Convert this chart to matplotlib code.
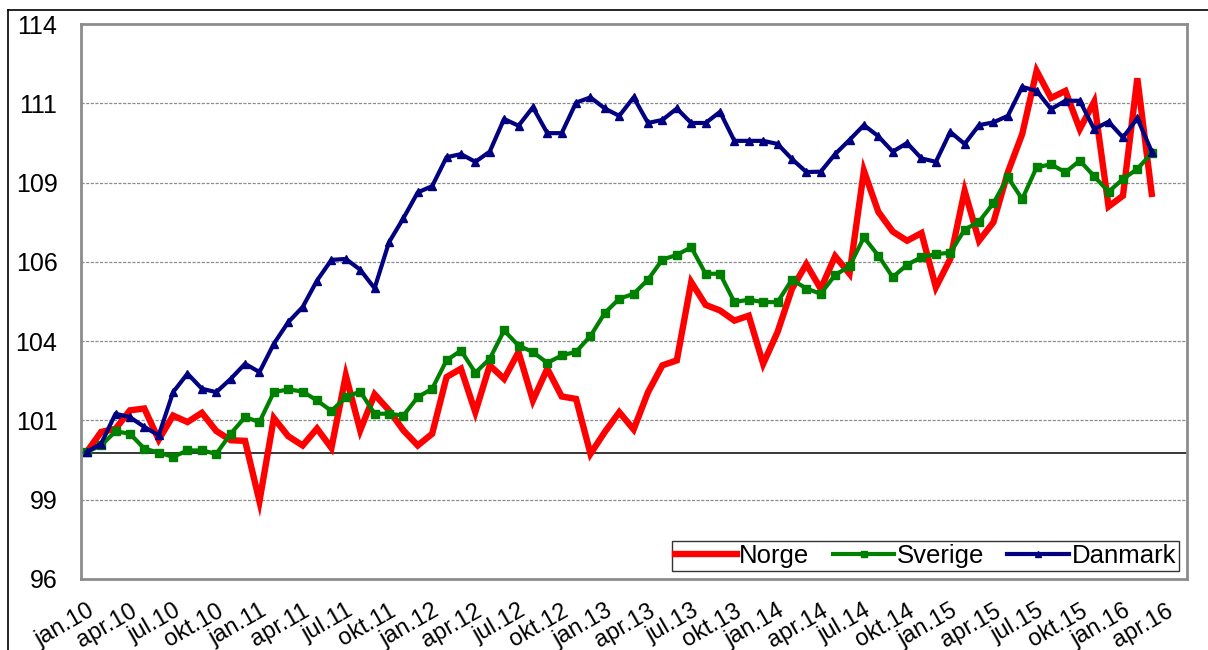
import numpy as np
import matplotlib
matplotlib.use("Agg")
import matplotlib.pyplot as plt
from matplotlib.lines import Line2D
import matplotlib.transforms as mtransforms

plt.rcParams['font.family'] = ['Liberation Sans', 'DejaVu Sans']

# ---------------- data ----------------
months = ["jan", "apr", "jul", "okt"]
years = ["10", "11", "12", "13", "14", "15", "16"]
tick_labels = [f"{m}.{y}" for y in years for m in months][:26]   # jan.10 ... apr.16
y_tick_labels = ["96", "99", "101", "104", "106", "109", "111", "114"]

norge = [100.12, 100.77, 100.87, 101.47, 101.53, 100.52, 101.30, 101.09, 101.39, 100.80,
         100.50, 100.48, 98.52, 101.22, 100.63, 100.33, 100.88, 100.25, 102.60, 100.82,
         101.99, 101.47, 100.82, 100.33, 100.71, 102.55, 102.82, 101.41, 102.93, 102.49,
         103.36, 101.79, 102.82, 101.92, 101.84, 100.06, 100.77, 101.41, 100.85, 102.06,
         102.93, 103.09, 105.63, 104.89, 104.71, 104.38, 104.54, 102.98, 104.01, 105.41,
         106.21, 105.41, 106.47, 105.90, 109.24, 107.91, 107.27, 106.97, 107.22, 105.46,
         106.38, 108.59, 106.97, 107.57, 109.19, 110.43, 112.48, 111.60, 111.83, 110.59,
         111.48, 108.08, 108.43, 112.24, 108.49]

sverige = [100.12, 100.33, 100.79, 100.71, 100.23, 100.10, 99.96, 100.17, 100.17, 100.06,
           100.71, 101.25, 101.09, 102.06, 102.15, 102.08, 101.79, 101.45, 101.90, 102.08,
           101.36, 101.36, 101.30, 101.90, 102.17, 103.09, 103.41, 102.69, 103.14, 104.06,
           103.57, 103.36, 103.01, 103.25, 103.37, 103.88, 104.63, 105.09, 105.25, 105.71,
           106.36, 106.51, 106.76, 105.90, 105.90, 104.98, 105.06, 104.98, 104.98, 105.71,
           105.42, 105.25, 105.86, 106.14, 107.08, 106.49, 105.79, 106.19, 106.44, 106.54,
           106.58, 107.33, 107.59, 108.19, 109.03, 108.32, 109.35, 109.45, 109.19, 109.57,
           109.06, 108.56, 108.97, 109.30, 109.81]

danmark = [100.12, 100.39, 101.36, 101.25, 100.93, 100.66, 102.06, 102.66, 102.17, 102.06,
           102.49, 102.98, 102.71, 103.63, 104.33, 104.82, 105.68, 106.35, 106.38, 106.03,
           105.43, 106.92, 107.70, 108.54, 108.74, 109.68, 109.78, 109.53, 109.86, 110.92,
           110.70, 111.30, 110.46, 110.46, 111.45, 111.62, 111.26, 111.02, 111.62, 110.79,
           110.89, 111.26, 110.79, 110.79, 111.15, 110.21, 110.21, 110.21, 110.11, 109.62,
           109.20, 109.21, 109.78, 110.24, 110.72, 110.36, 109.86, 110.14, 109.64, 109.53,
           110.50, 110.11, 110.72, 110.81, 111.02, 111.96, 111.83, 111.24, 111.51, 111.51,
           110.59, 110.83, 110.32, 110.94, 109.86]

base_level = 100.1

# ---------------- figure ----------------
W, H = 1208, 650
fig = plt.figure(figsize=(W / 100, H / 100), dpi=100)
ax = fig.add_axes([81 / W, 1 - 579 / H, (1187 - 81) / W, (579 - 24) / H])

x = np.arange(len(norge))
ax.plot(x, norge, color='#ff0000', lw=4.6, solid_joinstyle='miter', label='Norge', zorder=3)
ax.plot(x, sverige, color='#008000', lw=3.0, marker='s', markersize=5.5,
        markeredgecolor='#008000', label='Sverige', zorder=4)
ax.plot(x, danmark, color='#000080', lw=3.0, marker='^', markersize=6,
        markeredgecolor='#000080', label='Danmark', zorder=5)

ax.axhline(base_level, color='black', lw=1.1, zorder=2)

yt = np.linspace(96, 114, 8)
ax.set_ylim(96, 114)
ax.set_yticks(yt)
ax.set_yticklabels(y_tick_labels, fontsize=18)
for yv in yt[1:-1]:
    ax.axhline(yv, color='#8c8c8c', lw=0.9, ls=(0, (2.5, 1.2)), zorder=1)

ax.set_xlim(-0.4, 76.45)
xt = np.arange(0, 3 * len(tick_labels), 3)
ax.set_xticks(xt)
ax.set_xticklabels(tick_labels, rotation=30, ha='right', va='top',
                   rotation_mode='anchor', fontsize=17)
offset = mtransforms.ScaledTranslation(4 / 100, 0, fig.dpi_scale_trans)
for lbl in ax.get_xticklabels():
    lbl.set_transform(lbl.get_transform() + offset)

ax.tick_params(axis='both', length=0)
ax.tick_params(axis='y', pad=17)
ax.tick_params(axis='x', pad=15)

for sp in ax.spines.values():
    sp.set_color('#8c8c8c')
    sp.set_linewidth(2.0)

leg = ax.legend(loc='lower right', ncol=3, fontsize=18.5, frameon=True, fancybox=False,
                edgecolor='black', handlelength=2.4, handletextpad=0.1,
                columnspacing=0.9, borderpad=0.12, borderaxespad=0.3, markerscale=0.8)
leg.get_frame().set_linewidth(1.0)

# outer frame of the chart
fig.add_artist(Line2D([8 / W, 1], [1 - 10 / H, 1 - 10 / H], color='black', lw=1.2))
fig.add_artist(Line2D([8 / W, 8 / W], [0, 1 - 10 / H], color='black', lw=1.2))

fig.savefig('out.png', dpi=100)
